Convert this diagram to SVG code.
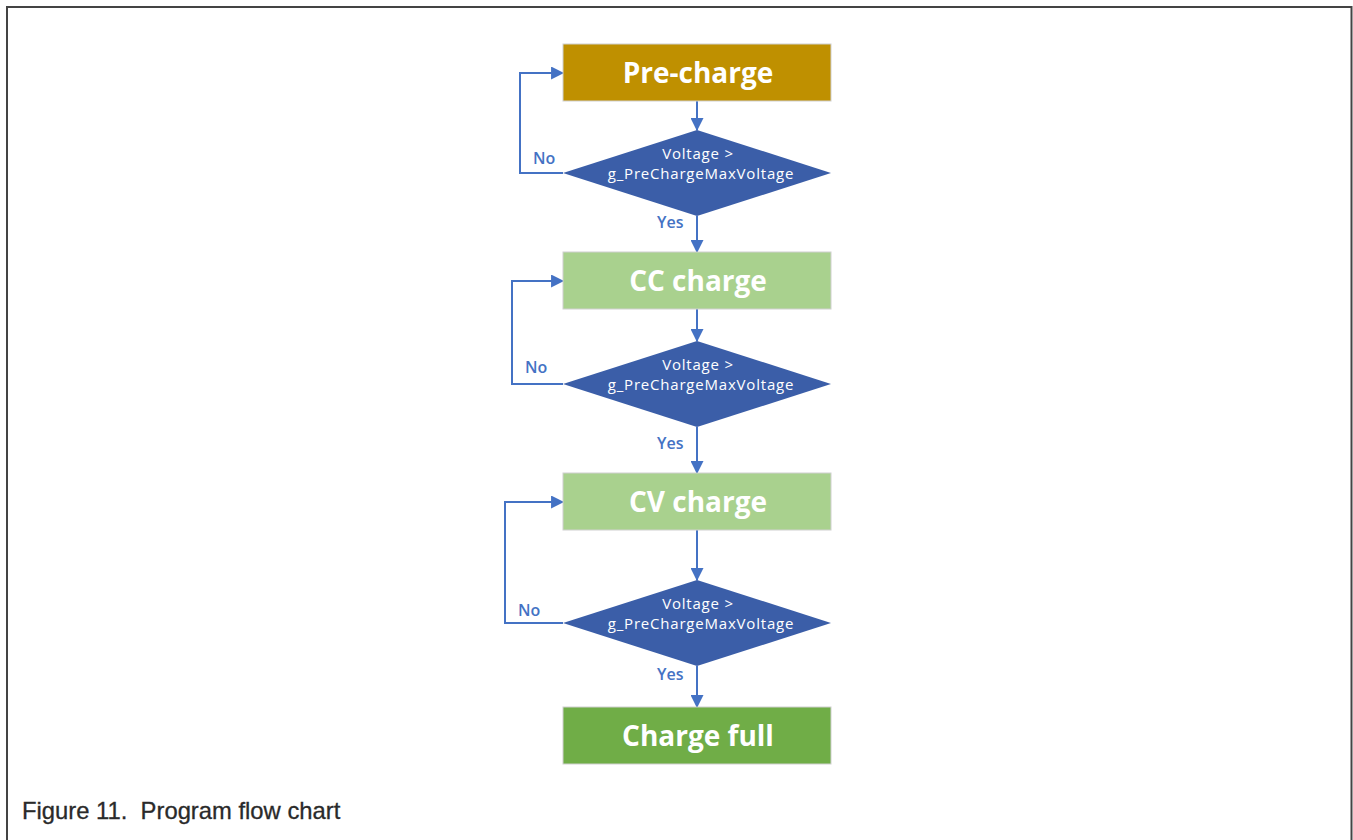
<svg xmlns="http://www.w3.org/2000/svg" width="1353" height="840" viewBox="0 0 1353 840">
<style>
.box{stroke:#d0d0d0;stroke-width:1}
.t{font-family:"Open Sans","Noto Sans",sans-serif;font-weight:bold;font-size:28px;fill:#ffffff;text-anchor:middle}
.dia{fill:#3B5EA8}
.dt{font-family:"Open Sans","Noto Sans",sans-serif;font-size:15px;letter-spacing:0.8px;fill:#ffffff;text-anchor:middle}
.lbl{font-family:"Open Sans","Noto Sans",sans-serif;font-size:16px;fill:#4472C4;font-weight:600}
.c{fill:none;stroke:#4472C4;stroke-width:2;marker-end:url(#ah)}
</style>
<defs>
<marker id="ah" viewBox="0 0 12 12" refX="11" refY="6" markerWidth="13" markerHeight="13" markerUnits="userSpaceOnUse" orient="auto">
<path d="M0,0 L12,6 L0,12 Z" fill="#4472C4"/>
</marker>
</defs>
<rect width="1353" height="840" fill="#ffffff"/>
<path d="M7,840 V7 H1351.5 V840" fill="none" stroke="#444444" stroke-width="2"/>
<g id="connectors">
<path class="c" d="M697,101 V130"/>
<path class="c" d="M697,216 V252"/>
<path class="c" d="M697,309 V341"/>
<path class="c" d="M697,427 V473"/>
<path class="c" d="M697,530 V580"/>
<path class="c" d="M697,666 V707"/>
<path class="c" d="M563,173 H520 V73 H563"/>
<path class="c" d="M563,384 H512 V281 H563"/>
<path class="c" d="M563,623 H505 V502 H563"/>
<text class="lbl" x="533" y="164">No</text>
<text class="lbl" x="525" y="373">No</text>
<text class="lbl" x="518" y="616">No</text>
<text class="lbl" x="657" y="228">Yes</text>
<text class="lbl" x="657" y="449">Yes</text>
<text class="lbl" x="657" y="680">Yes</text>
</g>
<g id="pre-charge">
<rect class="box" x="563" y="44" width="268" height="57" fill="#BF9000"/>
<text class="t" x="698" y="83">Pre-charge</text>
</g>
<g id="decision1">
<polygon class="dia" points="697,130 831,173 697,216 563,173"/>
<text class="dt" x="698" y="159">Voltage &gt;</text>
<text class="dt" x="701" y="179">g_PreChargeMaxVoltage</text>
</g>
<g id="cc-charge">
<rect class="box" x="563" y="252" width="268" height="57" fill="#A9D18E"/>
<text class="t" x="698" y="291">CC charge</text>
</g>
<g id="decision2">
<polygon class="dia" points="697,341 831,384 697,427 563,384"/>
<text class="dt" x="698" y="370">Voltage &gt;</text>
<text class="dt" x="701" y="390">g_PreChargeMaxVoltage</text>
</g>
<g id="cv-charge">
<rect class="box" x="563" y="473" width="268" height="57" fill="#A9D18E"/>
<text class="t" x="698" y="512">CV charge</text>
</g>
<g id="decision3">
<polygon class="dia" points="697,580 831,623 697,666 563,623"/>
<text class="dt" x="698" y="609">Voltage &gt;</text>
<text class="dt" x="701" y="629">g_PreChargeMaxVoltage</text>
</g>
<g id="charge-full">
<rect class="box" x="563" y="707" width="268" height="57" fill="#70AD47"/>
<text class="t" x="698" y="746">Charge full</text>
</g>
<text x="22" y="819" xml:space="preserve" font-family="Liberation Sans, Arial, sans-serif" font-size="23.8" fill="#2a2a2a" stroke="#2a2a2a" stroke-width="0.3">Figure 11.  Program flow chart</text>
</svg>
